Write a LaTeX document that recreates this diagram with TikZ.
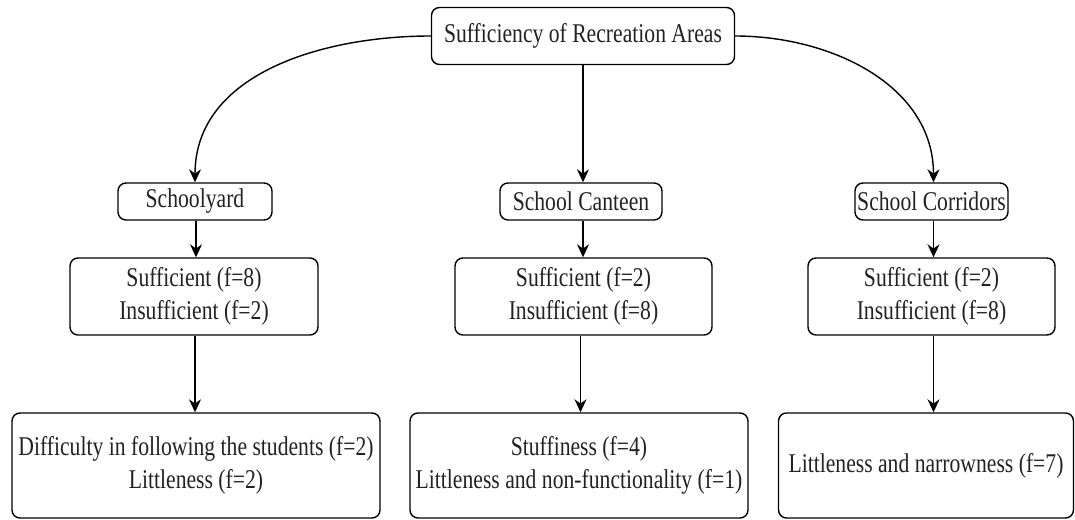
\documentclass[tikz,border=0pt]{standalone}
\usepackage{fontspec}
\setmainfont{Liberation Serif}[FakeStretch=0.8]
\usetikzlibrary{arrows.meta,positioning}
\definecolor{fgbody}{HTML}{222222}
\definecolor{stroke}{HTML}{000000}

\begin{document}
\begin{tikzpicture}[
  font=\fontsize{15.4}{18.5}\selectfont,>={Stealth[length=2.6mm,width=2.4mm]},
  every node/.append style={text=fgbody},
  box/.style={draw=stroke, line width=0.8pt, rounded corners=1.6mm, fill=white, align=center, inner sep=0pt},
  link/.style={->, draw=stroke, line width=0.8pt},
]
\useasboundingbox (0,0) rectangle (21.5,-10.4);
% root
\node[box, minimum width=6.06cm, minimum height=1.14cm] (root) at (11.66,-0.72) {Sufficiency of Recreation Areas};
% areas
\node[box, minimum width=3.08cm, minimum height=0.74cm] (yard) at (3.9,-4.03) {Schoolyard};
\node[box, minimum width=3.24cm, minimum height=0.74cm] (canteen) at (11.62,-4.03) {School Canteen};
\node[box, minimum width=3.06cm, minimum height=0.74cm] (corr) at (18.63,-4.03) {School Corridors};
% frequencies
\node[box, minimum width=4.96cm, minimum height=1.54cm] (yardf) at (3.88,-5.93) {Sufficient (f=8)\\Insufficient (f=2)};
\node[box, minimum width=5.14cm, minimum height=1.54cm] (canteenf) at (11.67,-5.93) {Sufficient (f=2)\\Insufficient (f=8)};
\node[box, minimum width=4.94cm, minimum height=1.54cm] (corrf) at (18.63,-5.93) {Sufficient (f=2)\\Insufficient (f=8)};
% reasons
\node[box, minimum width=7.36cm, minimum height=2.1cm] (yardr) at (3.92,-9.31) {Difficulty in following the students (f=2)\\Littleness (f=2)};
\node[box, minimum width=6.76cm, minimum height=2.1cm] (canteenr) at (11.58,-9.31) {Stuffiness (f=4)\\Littleness and non-functionality (f=1)};
\node[box, minimum width=5.9cm, minimum height=2.1cm] (corrr) at (18.52,-9.31) {Littleness and narrowness (f=7)};
% flows
\draw[link] (root.west) to[out=180,in=90] (yard.north);
\draw[link] (root.south) -- (root.south |- canteen.north);
\draw[link] (root.east) to[out=0,in=90] ([xshift=0.04cm]corr.north);
\draw[link] ([xshift=0.02cm]yard.south) -- ([xshift=0.02cm]yard.south |- yardf.north);
\draw[link] ([xshift=0.04cm]canteen.south) -- ([xshift=0.04cm]canteen.south |- canteenf.north);
\draw[link] ([xshift=0.04cm]corr.south) -- ([xshift=0.04cm]corr.south |- corrf.north);
\draw[link] ([xshift=0.02cm]yardf.south) -- ([xshift=0.02cm]yardf.south |- yardr.north);
\draw[link] ([xshift=-0.06cm]canteenf.south) -- ([xshift=-0.06cm]canteenf.south |- canteenr.north);
\draw[link] ([xshift=0.04cm]corrf.south) -- ([xshift=0.04cm]corrf.south |- corrr.north);
\end{tikzpicture}
\end{document}
